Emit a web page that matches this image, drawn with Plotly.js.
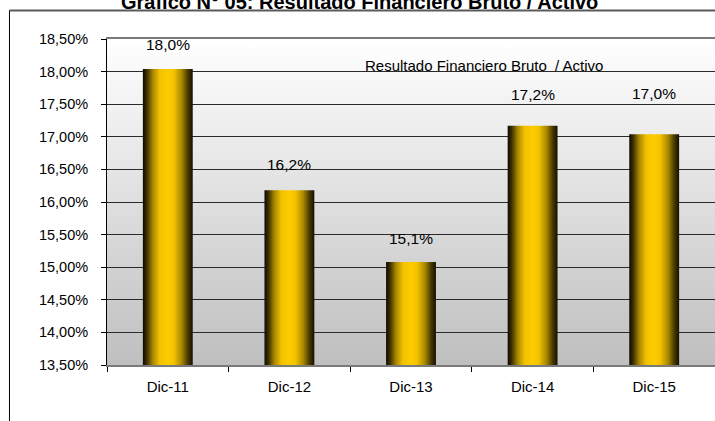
<!DOCTYPE html>
<html>
<head>
<meta charset="utf-8">
<script src="https://cdn.plot.ly/plotly-3.0.1.min.js"></script>
<style>
html, body { margin: 0; padding: 0; background: #ffffff; }
#chart { width: 715px; height: 421px; }
</style>
</head>
<body>
<div id="chart"></div>
<script>
// ---- data ----
var categories = ["Dic-11", "Dic-12", "Dic-13", "Dic-14", "Dic-15"];
var values = [18.04, 16.18, 15.08, 17.17, 17.04];
var valueLabels = ["18,0%", "16,2%", "15,1%", "17,2%", "17,0%"];
var yTickValues = [13.5, 14.0, 14.5, 15.0, 15.5, 16.0, 16.5, 17.0, 17.5, 18.0, 18.5];
var yTickLabels = ["13,50%", "14,00%", "14,50%", "15,00%", "15,50%", "16,00%", "16,50%", "17,00%", "17,50%", "18,00%", "18,50%"];
var chartTitle = "Gráfico N° 05: Resultado Financiero Bruto / Activo";
var seriesName = "Resultado Financiero Bruto  / Activo";

// ---- layout tweaks (pixel offsets of value labels above bar tops) ----
var labelShift = [24, 26, 23, 31, 41];

var font = "Arial, 'Liberation Sans', sans-serif";

var trace = {
  type: "bar",
  x: categories,
  y: values,
  marker: { color: "#FFCC00", line: { width: 0 } },
  hoverinfo: "none",
  showlegend: false
};

var annotations = categories.map(function (c, i) {
  return {
    x: c, y: values[i], xref: "x", yref: "y",
    text: valueLabels[i], showarrow: false,
    yanchor: "middle", xanchor: "center", yshift: labelShift[i],
    font: { family: font, size: 15.5, color: "#000" }
  };
});
annotations.push({
  xref: "paper", yref: "paper", x: 0.62, y: 0.92,
  text: seriesName, showarrow: false, xanchor: "center", yanchor: "middle",
  font: { family: font, size: 15, color: "#000" }
});
annotations.push({
  xref: "paper", yref: "paper", x: 0.416, y: 1.112,
  text: "<b>" + chartTitle + "</b>", showarrow: false, xanchor: "center", yanchor: "middle",
  font: { family: font, size: 20, color: "#000" }
});

var layout = {
  width: 715, height: 421,
  margin: { l: 107, r: 0, t: 39, b: 56, pad: 0 },
  paper_bgcolor: "#ffffff",
  plot_bgcolor: "#e0e0e0",
  bargap: 0.59,
  xaxis: {
    type: "category",
    range: [-0.5, 4.5],
    showgrid: false,
    showline: true, linecolor: "#7a7a7a", linewidth: 2, mirror: true,
    ticks: "outside", tickson: "boundaries", ticklen: 5, tickcolor: "#000", tickwidth: 1,
    tickfont: { family: font, size: 15, color: "#000" },
    ticklabelstandoff: 7,
    zeroline: false, fixedrange: true
  },
  yaxis: {
    range: [13.5, 18.5],
    tickvals: yTickValues, ticktext: yTickLabels,
    showgrid: true, gridcolor: "#2a2a2a", gridwidth: 1,
    showline: true, linecolor: "#000", linewidth: 1,
    ticks: "outside", ticklen: 5, tickcolor: "#000", tickwidth: 1,
    tickfont: { family: font, size: 14.5, color: "#000" },
    ticklabelstandoff: 10,
    zeroline: false, fixedrange: true
  },
  shapes: [
    { type: "line", xref: "paper", yref: "paper", x0: -0.1604, x1: 1.05, y0: 1.0874, y1: 1.0874,
      line: { color: "#5a5a5a", width: 2 } },
    { type: "line", xref: "paper", yref: "paper", x0: -0.1604, x1: -0.1604, y0: 1.0874, y1: -0.25,
      line: { color: "#000", width: 1 } }
  ],
  annotations: annotations
};

function addGradients(gd) {
  var svgNS = "http://www.w3.org/2000/svg";
  var svg = gd.querySelector(".main-svg");
  var defs = svg.querySelector("defs");
  if (!defs) { defs = document.createElementNS(svgNS, "defs"); svg.insertBefore(defs, svg.firstChild); }

  function grad(id, horizontal, stops) {
    var g = document.createElementNS(svgNS, "linearGradient");
    g.setAttribute("id", id);
    g.setAttribute("x1", "0"); g.setAttribute("y1", "0");
    g.setAttribute("x2", horizontal ? "1" : "0"); g.setAttribute("y2", horizontal ? "0" : "1");
    stops.forEach(function (s) {
      var st = document.createElementNS(svgNS, "stop");
      st.setAttribute("offset", s[0]);
      st.setAttribute("stop-color", s[1]);
      g.appendChild(st);
    });
    defs.appendChild(g);
  }
  grad("barGrad", true, [
    ["0", "#0d0a00"], ["0.08", "#3d3000"], ["0.2", "#a88700"], ["0.34", "#f2c200"],
    ["0.5", "#ffcc00"], ["0.62", "#f3c300"], ["0.78", "#a88700"], ["0.9", "#4a3b00"], ["1", "#140f00"]
  ]);
  grad("bgGrad", false, [["0", "#ffffff"], ["1", "#bfbfbf"]]);

  gd.querySelectorAll(".barlayer .point path").forEach(function (p) {
    p.style.fill = "url(#barGrad)";
  });
  gd.querySelectorAll(".bglayer rect.bg").forEach(function (r) {
    r.style.fill = "url(#bgGrad)";
  });
}

var gd = document.getElementById("chart");
Plotly.newPlot(gd, [trace], layout, { staticPlot: true, displayModeBar: false }).then(function () {
  addGradients(gd);
});
</script>
</body>
</html>
